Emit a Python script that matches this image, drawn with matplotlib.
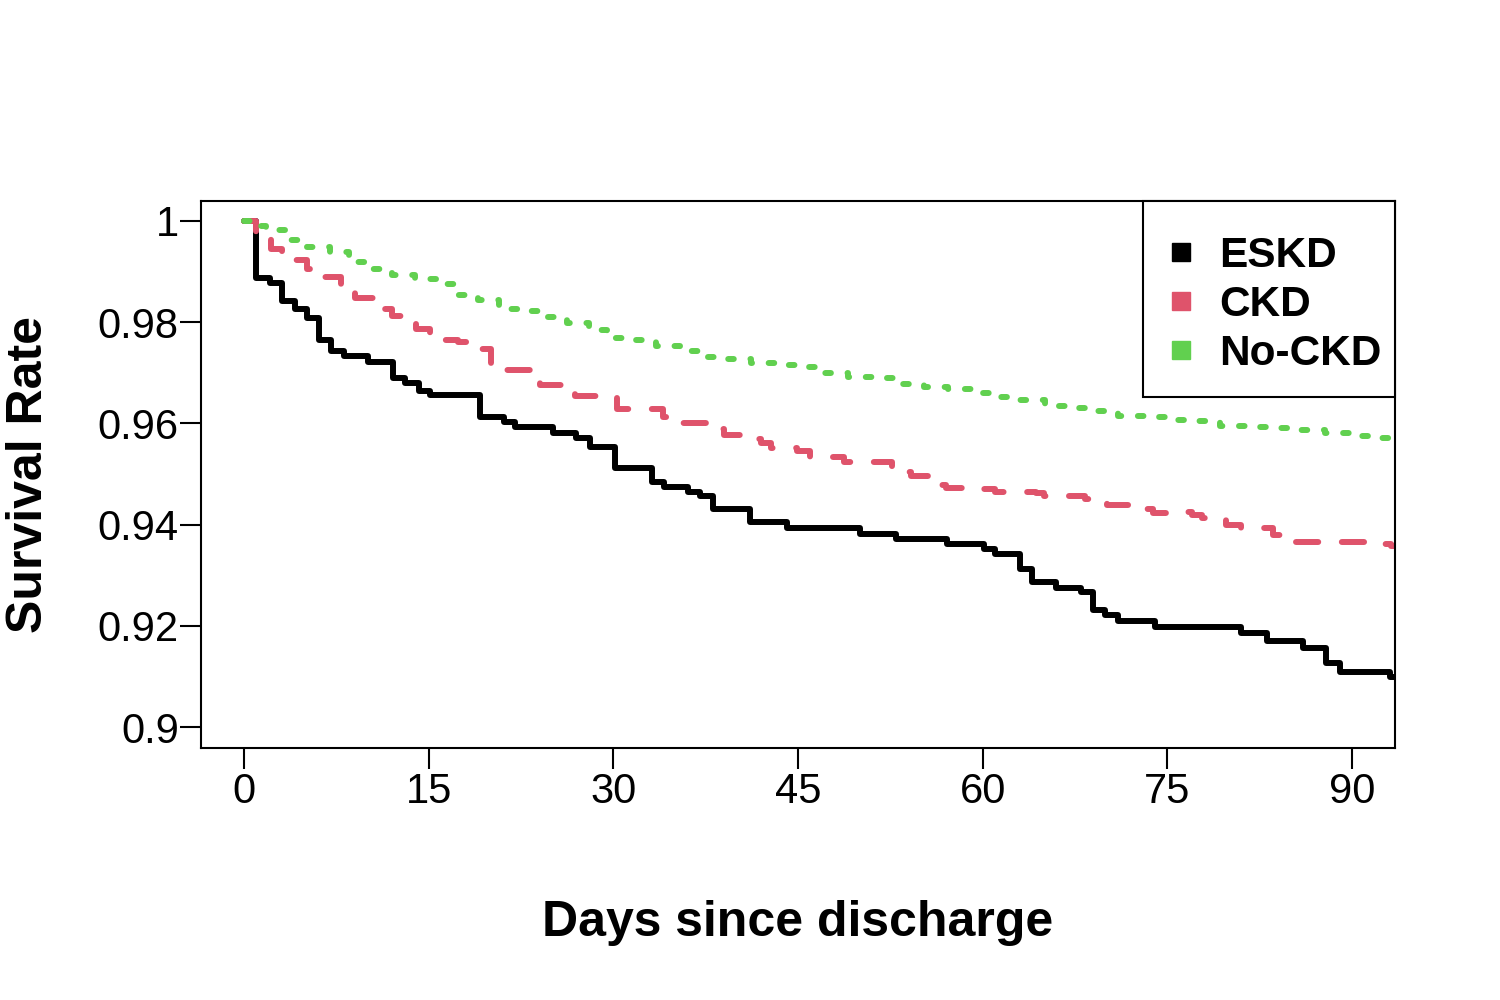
import numpy as np
import matplotlib
matplotlib.use("Agg")
import matplotlib.pyplot as plt
from matplotlib.patches import Rectangle

plt.rcParams['font.family'] = ['Liberation Sans', 'DejaVu Sans']
plt.rcParams['lines.scale_dashes'] = False

# ESKD step curve (day, survival after event)
eskd_t = [0, 1, 2.1, 3.1, 4.1, 5.1, 6.1, 7.1, 8.1, 10.1, 12.1, 13.1, 14.2, 15.1,
          19.2, 21.1, 22, 25.1, 27, 28.1, 30.1, 33.1, 34.1, 36.1, 37, 38.1, 41.1,
          44.1, 50, 53, 57.1, 60.1, 61, 63, 64, 66, 68, 69, 69.9, 71, 74, 81,
          83.1, 86, 87.9, 89, 93.1, 95]
eskd_s = [1.0, 0.9887, 0.9877, 0.9842, 0.9826, 0.9809, 0.9765, 0.9743, 0.9733,
          0.9721, 0.9690, 0.9680, 0.9664, 0.9656, 0.9612, 0.9603, 0.9592, 0.9582,
          0.9572, 0.9554, 0.9511, 0.9485, 0.9474, 0.9465, 0.9457, 0.9430, 0.9406,
          0.9393, 0.9381, 0.9371, 0.9362, 0.9352, 0.9342, 0.9313, 0.9287, 0.9274,
          0.9267, 0.9231, 0.9221, 0.9209, 0.9198, 0.9185, 0.9170, 0.9156, 0.9126,
          0.9109, 0.9099, 0.9099]

# CKD
ckd_t = [0, 1, 2.2, 3.1, 5.1, 6.0, 7.9, 9.0, 10.9, 12.0, 14.0, 15.1, 17.4, 18.2,
         20.1, 21.0, 23.5, 24.0, 26.9, 30.3, 34.0, 35.0, 37.9, 39.0, 41.4, 42.0,
         42.8, 44.9, 46.0, 48.7, 52.6, 53.4, 54.2, 55.9, 57.0, 60.0, 61.0, 64.3,
         65.0, 68.3, 70.1, 72.4, 73.0, 73.8, 76.3, 77.0, 77.8, 79.8, 81.0, 83.6,
         84.4, 85.0, 87.5, 92.0, 93.2, 95]
ckd_s = [1.0, 0.9966, 0.9944, 0.9923, 0.9905, 0.9889, 0.9864, 0.9847, 0.9826,
         0.9812, 0.9786, 0.9765, 0.9760, 0.9748, 0.9715, 0.9706, 0.9686, 0.9675,
         0.9655, 0.9629, 0.9612, 0.9600, 0.9588, 0.9577, 0.9569, 0.9561, 0.9552,
         0.9545, 0.9534, 0.9524, 0.9509, 0.9503, 0.9497, 0.9478, 0.9472, 0.9470,
         0.9465, 0.9462, 0.9457, 0.9451, 0.9439, 0.9439, 0.9430, 0.9422, 0.9424,
         0.9419, 0.9414, 0.9399, 0.9393, 0.9379, 0.9373, 0.9365, 0.9365, 0.9362,
         0.9358, 0.9358]

# No-CKD
nockd_t = [0, 1.0, 1.8, 3.4, 5.1, 7.0, 8.5, 10.2, 12.0, 13.9, 15.8, 17.1, 19.0,
           20.7, 22.6, 24.5, 26.2, 28.0, 29.5, 31.6, 33.5, 35.4, 37.2, 39.2, 41.2,
           43.3, 45.4, 47.2, 49.1, 51.3, 53.1, 55.2, 57.2, 59.2, 61.1, 62.9, 65.1,
           67.1, 69.2, 71.0, 73.2, 75.3, 77.5, 79.3, 81.6, 83.7, 85.8, 87.8, 89.9,
           92.0, 93.6, 95]
nockd_s = [1.0, 0.9991, 0.9982, 0.9962, 0.9948, 0.9939, 0.9918, 0.9906, 0.9893,
           0.9885, 0.9875, 0.9854, 0.9843, 0.9827, 0.9822, 0.9810, 0.9798, 0.9785,
           0.9768, 0.9765, 0.9753, 0.9743, 0.9731, 0.9727, 0.9719, 0.9715, 0.9711,
           0.9699, 0.9691, 0.9689, 0.9678, 0.9671, 0.9667, 0.9661, 0.9653, 0.9646,
           0.9635, 0.9630, 0.9625, 0.9615, 0.9612, 0.9607, 0.9605, 0.9595, 0.9593,
           0.9591, 0.9587, 0.9582, 0.9576, 0.9571, 0.9564, 0.9564]

labels = ['ESKD', 'CKD', 'No-CKD']
colors = ['#000000', '#DF536B', '#61D04F']
xticks = [0, 15, 30, 45, 60, 75, 90]
yticks = [0.9, 0.92, 0.94, 0.96, 0.98, 1.0]
ytick_labels = ['0.9', '0.92', '0.94', '0.96', '0.98', '1']

fig = plt.figure(figsize=(15, 10), dpi=100)
ax = fig.add_axes([0.134, 0.252, 0.796, 0.547])

lw = 4.3
common = dict(where='post', linewidth=lw, solid_joinstyle='round',
              solid_capstyle='round', dash_capstyle='round', dash_joinstyle='round')
ax.step(eskd_t, eskd_s, color=colors[0], linestyle='-', **common)
ax.step(ckd_t, ckd_s, color=colors[1], linestyle=(0, (16.0, 17.0)), **common)
ax.step(nockd_t, nockd_s, color=colors[2], linestyle=(0, (4.0, 12.0)), **common)

ax.set_xlim(-3.5, 93.5)
ax.set_ylim(0.89585, 1.00395)
ax.set_xticks(xticks)
ax.set_yticks(yticks)
ax.set_yticklabels(ytick_labels)
ax.tick_params(axis='both', labelsize=30, length=15, width=1.5, direction='out')
ax.tick_params(axis='x', pad=2)
ax.tick_params(axis='y', pad=1)
for sp in ax.spines.values():
    sp.set_linewidth(1.5)

ax.set_xlabel('Days since discharge', fontsize=36, fontweight='bold', labelpad=64)
ax.set_ylabel('Survival Rate', fontsize=36, fontweight='bold', labelpad=33)

# legend box (R style: frame at top-right corner of the plot region)
ax.add_patch(Rectangle((0.789, 0.6417), 0.211, 0.3583, transform=ax.transAxes,
                       facecolor='white', edgecolor='black', linewidth=1.5,
                       zorder=4, clip_on=False))
handles = [plt.Line2D([], [], marker='s', linestyle='none', color=c, markersize=13)
           for c in colors]
leg = ax.legend(handles, labels, loc='center left', bbox_to_anchor=(0.8032, 0.810),
                borderaxespad=0, borderpad=0, frameon=False,
                prop={'size': 30.5, 'weight': 'bold'},
                handlelength=1.0, handletextpad=0.4, labelspacing=0.21)
leg.set_zorder(5)

fig.savefig('out.png', dpi=100)
